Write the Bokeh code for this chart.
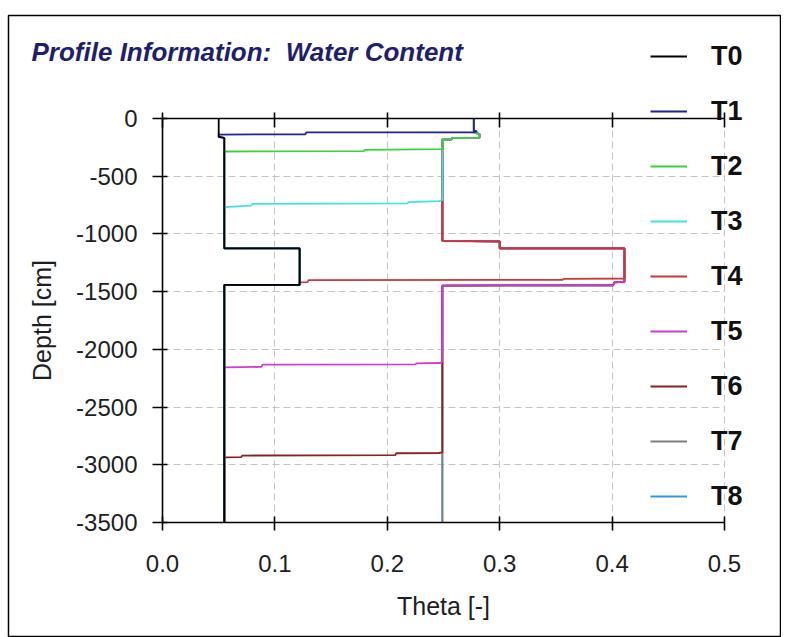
from bokeh.plotting import figure
from bokeh.models import (Range1d, LinearAxis, FixedTicker, Legend, LegendItem,
                          Label, CustomJSTickFormatter, Grid)
from bokeh.embed import file_html
from bokeh.resources import INLINE

FONT = "Liberation Sans"

# ---------------- data ----------------
series_names = ["T0", "T1", "T2", "T3", "T4", "T5", "T6", "T7", "T8"]
series_colors = ["#000000", "#23238f", "#3fcf3f", "#3fe3e3", "#c83838",
                 "#cc3fcc", "#872222", "#7f7f7f", "#3396d8"]

theta_T0 = [0.050, 0.050, 0.055, 0.055, 0.122, 0.122, 0.055, 0.055]
depth_T0 = [0, -160, -168, -1126, -1126, -1442, -1442, -3500]

theta_T1 = [0.277, 0.277, 0.280, 0.277, 0.128, 0.127, 0.050, 0.050, 0.055, 0.055, 0.122, 0.122, 0.055, 0.055]
depth_T1 = [0, -105, -112, -119, -121, -137, -139, -160, -168, -1126, -1126, -1442, -1442, -3500]

theta_T2 = [0.277, 0.277, 0.282, 0.282, 0.258, 0.257, 0.249, 0.249, 0.180, 0.179, 0.055, 0.055, 0.122, 0.122, 0.055, 0.055]
depth_T2 = [0, -118, -135, -165, -168, -181, -184, -266, -271, -283, -286, -1126, -1126, -1442, -1442, -3500]

theta_T3 = [0.277, 0.277, 0.282, 0.282, 0.258, 0.257, 0.249, 0.249, 0.246, 0.219, 0.218, 0.080, 0.079, 0.055, 0.055, 0.122, 0.122, 0.055, 0.055]
depth_T3 = [0, -118, -135, -165, -168, -181, -184, -705, -715, -725, -735, -740, -754, -768, -1126, -1126, -1442, -1442, -3500]

theta_T4 = [0.277, 0.277, 0.282, 0.282, 0.258, 0.257, 0.249, 0.249, 0.300, 0.300, 0.411, 0.411, 0.357, 0.356, 0.130, 0.129, 0.122, 0.122, 0.055, 0.055]
depth_T4 = [0, -118, -135, -165, -168, -181, -184, -1062, -1066, -1126, -1126, -1386, -1389, -1397, -1400, -1418, -1420, -1442, -1442, -3500]

theta_T5 = [0.277, 0.277, 0.282, 0.282, 0.258, 0.257, 0.249, 0.249, 0.300, 0.300, 0.411, 0.411, 0.402, 0.401, 0.249, 0.249, 0.247, 0.226, 0.225, 0.089, 0.088, 0.055, 0.055]
depth_T5 = [0, -118, -135, -165, -168, -181, -184, -1060, -1064, -1126, -1126, -1416, -1419, -1445, -1447, -2108, -2118, -2121, -2130, -2132, -2152, -2156, -3500]

theta_T6 = [0.277, 0.277, 0.282, 0.282, 0.258, 0.257, 0.249, 0.249, 0.300, 0.300, 0.411, 0.411, 0.402, 0.401, 0.249, 0.249, 0.246, 0.208, 0.207, 0.071, 0.070, 0.055, 0.055]
depth_T6 = [0, -118, -135, -165, -168, -181, -184, -1060, -1064, -1126, -1126, -1416, -1419, -1445, -1447, -2893, -2898, -2900, -2917, -2920, -2933, -2936, -3500]

theta_T7 = [0.277, 0.277, 0.282, 0.282, 0.258, 0.257, 0.249, 0.249, 0.300, 0.300, 0.411, 0.411, 0.402, 0.401, 0.249, 0.249]
depth_T7 = [0, -118, -135, -165, -168, -181, -184, -1060, -1064, -1126, -1126, -1416, -1419, -1445, -1447, -3500]

theta_T8 = [0.277, 0.277, 0.282, 0.282, 0.258, 0.257, 0.249, 0.249, 0.300, 0.300, 0.411, 0.411, 0.402, 0.401, 0.249, 0.249]
depth_T8 = [0, -118, -135, -165, -168, -181, -184, -1060, -1064, -1126, -1126, -1416, -1419, -1445, -1447, -3500]

x_ticks = [0.0, 0.1, 0.2, 0.3, 0.4, 0.5]
x_tick_labels = ["0.0", "0.1", "0.2", "0.3", "0.4", "0.5"]
y_ticks = [0, -500, -1000, -1500, -2000, -2500, -3000, -3500]
y_tick_labels = ["0", "-500", "-1000", "-1500", "-2000", "-2500", "-3000", "-3500"]

title_text = "Profile Information: \u00a0Water Content"
x_label = "Theta [-]"
y_label = "Depth [cm]"

thetas = [theta_T0, theta_T1, theta_T2, theta_T3, theta_T4, theta_T5, theta_T6, theta_T7, theta_T8]
depths = [depth_T0, depth_T1, depth_T2, depth_T3, depth_T4, depth_T5, depth_T6, depth_T7, depth_T8]

X_MIN, X_MAX = x_ticks[0], x_ticks[-1]
Y_MIN, Y_MAX = y_ticks[-1], y_ticks[0]

# ---------------- layout geometry (pixels) ----------------
W, H = 781, 637
B_LEFT, B_RIGHT, B_TOP, B_BOTTOM = 8, 1, 15, 0
frame_w = W - B_LEFT - B_RIGHT
frame_h = H - B_TOP - B_BOTTOM
ax_left_px = 154          # x=0 from frame left
ax_right_px = 716         # x=0.5 from frame left
ax_top_px = 103           # y=0 from frame top
ax_bottom_px = 507        # y=-3500 from frame top

xs = (X_MAX - X_MIN) / (ax_right_px - ax_left_px)
ys = (Y_MAX - Y_MIN) / (ax_bottom_px - ax_top_px)
x_range = Range1d(X_MIN - ax_left_px * xs, X_MAX + (frame_w - ax_right_px) * xs)
y_range = Range1d(Y_MIN - (frame_h - ax_bottom_px) * ys, Y_MAX + ax_top_px * ys)

p = figure(width=W, height=H, x_range=x_range, y_range=y_range,
           output_backend="svg", toolbar_location=None, title=None,
           x_axis_type=None, y_axis_type=None,
           min_border_left=B_LEFT, min_border_right=B_RIGHT,
           min_border_top=B_TOP, min_border_bottom=B_BOTTOM)
p.outline_line_color = "black"
p.outline_line_width = 1.5
p.background_fill_color = "white"
p.border_fill_color = "white"

# ---------------- grid ----------------
grid_color, grid_dash = "#c4c4c4", "7 4"
xgrid = Grid(dimension=0, ticker=FixedTicker(ticks=x_ticks))
ygrid = Grid(dimension=1, ticker=FixedTicker(ticks=y_ticks))
use_cross = "cross_bounds" in Grid.properties()
for g in (xgrid, ygrid):
    g.grid_line_color = grid_color
    g.grid_line_dash = grid_dash
    g.grid_line_width = 1
xgrid.bounds = (X_MIN - 0.05, X_MAX + 0.05)
ygrid.bounds = (Y_MIN - 100, Y_MAX + 100)
if use_cross:
    xgrid.cross_bounds = (Y_MIN, Y_MAX)
    ygrid.cross_bounds = (X_MIN, X_MAX)
    p.add_layout(xgrid)
    p.add_layout(ygrid)
else:
    p.segment(x0=x_ticks, y0=[Y_MIN] * len(x_ticks), x1=x_ticks, y1=[Y_MAX] * len(x_ticks),
              line_color=grid_color, line_dash=grid_dash, line_width=1)
    p.segment(x0=[X_MIN] * len(y_ticks), y0=y_ticks, x1=[X_MAX] * len(y_ticks), y1=y_ticks,
              line_color=grid_color, line_dash=grid_dash, line_width=1)

# ---------------- axes ----------------
def style_axis(ax):
    ax.axis_line_width = 1.6
    ax.axis_line_color = "black"
    ax.major_tick_line_width = 1.6
    ax.major_tick_line_color = "black"
    ax.minor_tick_line_color = None
    ax.major_label_text_font = FONT
    ax.major_label_text_font_size = "24px"
    ax.major_label_text_color = "#1e1e1e"
    ax.axis_label_text_font = FONT
    ax.axis_label_text_font_size = "25px"
    ax.axis_label_text_font_style = "normal"
    ax.axis_label_text_color = "#1e1e1e"

xa = LinearAxis(ticker=FixedTicker(ticks=x_ticks), fixed_location=Y_MIN,
                bounds=(X_MIN, X_MAX), axis_label=x_label)
style_axis(xa)
xa.major_label_overrides = dict(zip(x_ticks, x_tick_labels))
xa.major_tick_in = 6
xa.major_tick_out = 8
xa.major_label_standoff = 24
xa.axis_label_standoff = 17
p.add_layout(xa, "below")

ya = LinearAxis(ticker=FixedTicker(ticks=y_ticks), fixed_location=X_MIN,
                bounds=(Y_MIN, Y_MAX), axis_label=y_label)
style_axis(ya)
ya.major_label_overrides = dict(zip(y_ticks, y_tick_labels))
ya.major_tick_in = 5
ya.major_tick_out = 10
ya.major_label_standoff = 15
ya.axis_label_standoff = 17
p.add_layout(ya, "left")

top_axis = LinearAxis(ticker=FixedTicker(ticks=x_ticks), fixed_location=Y_MAX,
                      bounds=(X_MIN, X_MAX),
                      formatter=CustomJSTickFormatter(code="return ''"))
style_axis(top_axis)
top_axis.major_tick_in = 9
top_axis.major_tick_out = 6
top_axis.major_label_text_font_size = "1px"
p.add_layout(top_axis, "above")

# ---------------- series (last first so T0 is on top) ----------------
renderers = [None] * len(series_names)
for i in reversed(range(len(series_names))):
    renderers[i] = p.line(thetas[i], depths[i], line_color=series_colors[i],
                          line_width=1.8)

legend = Legend(items=[LegendItem(label=n, renderers=[r])
                       for n, r in zip(series_names, renderers)],
                location=(642, 121), orientation="vertical",
                padding=0, margin=0, spacing=15,
                glyph_width=37, glyph_height=40, label_height=40,
                label_standoff=24,
                label_text_font=FONT, label_text_font_size="27px",
                label_text_font_style="bold", label_text_color="#111111",
                border_line_color=None, background_fill_alpha=0)
p.add_layout(legend)

title = Label(x=23, y=586, x_units="screen", y_units="screen",
              text=title_text, text_font=FONT, text_font_size="26px",
              text_font_style="bold italic", text_color="#1f1f6e",
              text_baseline="alphabetic", text_align="left")
p.add_layout(title)

open("out.html", "w").write(file_html(p, INLINE))
